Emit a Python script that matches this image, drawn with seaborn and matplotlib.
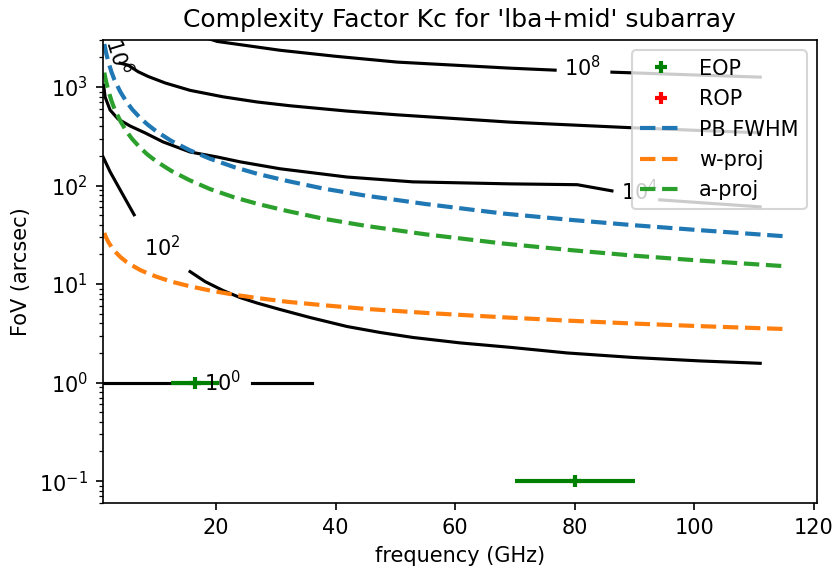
import matplotlib
matplotlib.use("Agg")
import matplotlib.pyplot as plt
import seaborn as sns

# ---------------- data ----------------
# dashed reference curves
pb_freq = [1.3, 1.6, 2, 2.5, 3, 4, 5, 6, 7.3, 8.5, 10, 12.5, 15.6, 19, 23, 27, 32, 38, 45, 55, 68, 79, 90, 101, 115]
pb_fov = [2730, 2220, 1780, 1420, 1180, 890, 710, 590, 486, 418, 355, 284, 228, 187, 154, 131, 111, 93, 79, 65, 52, 45, 39.5, 35.2, 30.6]

wproj_freq = [1.3, 1.6, 2, 2.5, 3, 4, 5, 6, 7.3, 8.5, 10, 12.5, 15.6, 19, 23, 27, 32, 38, 45, 55, 68, 79, 90, 101, 115]
wproj_fov = [33.0, 29.7, 26.6, 23.8, 21.7, 18.8, 16.8, 15.4, 13.9, 12.9, 11.9, 10.6, 9.5, 8.6, 7.8, 7.2, 6.6, 6.1, 5.6, 5.1, 4.6, 4.25, 3.97, 3.74, 3.5]

aproj_freq = [1.3, 1.6, 2, 2.5, 3, 4, 5, 6, 7.3, 8.5, 10, 12.5, 15.6, 19, 23, 27, 32, 38, 45, 55, 68, 79, 90, 101, 115]
aproj_fov = [1400, 1140, 910, 725, 600, 450, 355, 295, 242, 207, 176, 141, 113, 92, 76, 65, 55, 46, 39, 32, 25.8, 22.2, 19.4, 17.3, 15.2]

# Kc contour lines (level 1e8)
c8_a_freq = [18, 20.2, 30.7, 40, 50.3, 69.2, 76.7]
c8_a_fov = [3200, 2900, 2360, 2050, 1790, 1553, 1483]
c8_b_freq = [86.2, 100.9, 111.0]
c8_b_fov = [1415, 1320, 1260]

# level 1e6
c6_freq = [3.95, 5.28, 6.96, 8.63, 11.47, 15.65, 21.17, 26.85, 32.4, 41.9, 50.3, 69.2, 88.7, 100.9, 111.0]
c6_fov = [1746, 1667, 1430, 1280, 1100, 925, 795, 705, 645, 570, 522, 440, 388, 362, 343]

# level 1e4
c4_a_freq = [1.19, 1.44, 2.27, 3.61, 5.62, 8.13, 11.14, 15.65, 20.17, 24.02, 30.7, 41.9, 52.9, 69.2, 80.4, 86.2]
c4_a_fov = [1045, 790, 584, 473, 402, 342, 277, 219, 195, 174, 148, 122, 109, 104, 102, 88.3]
c4_b_freq = [94.2, 111.0]
c4_b_fov = [71.6, 60.8]

# level 1e2
c2_a_freq = [1.1, 2.27, 3.95, 6.29]
c2_a_fov = [195, 138, 90.5, 50.5]
c2_b_freq = [15.65, 18.16, 21.17, 24.0, 26.86, 30.7, 35.7, 41.9, 47.4, 52.95, 60.8, 69.2, 78.7, 89.7, 100.9, 111.0]
c2_b_fov = [13.38, 10.6, 8.6, 7.3, 6.42, 5.52, 4.58, 3.71, 3.23, 2.87, 2.53, 2.28, 2.0, 1.8, 1.66, 1.57]

# level 1e0
c0_a_freq = [1.0, 17.3]
c0_a_fov = [1.0, 1.0]
c0_b_freq = [26.05, 36.06]
c0_b_fov = [1.0, 1.0]

# contour label texts and anchor points
clabel_text = [r"$10^{0}$", r"$10^{2}$", r"$10^{4}$", r"$10^{6}$", r"$10^{8}$"]
clabel_freq = [21.0, 11.0, 90.9, 3.6, 81.2]
clabel_fov = [1.0, 23.4, 86.0, 2055, 1590]
clabel_rot = [0, 0, 0, -73, 0]

# observing points
eop_freq = [16.5, 80]
eop_fov = [1.0, 0.1]
eop_ferr = [4, 10]
rop_freq = []
rop_fov = []

# ---------------- figure ----------------
W, H, DPI = 836, 573, 150
fig = plt.figure(figsize=(W / DPI, H / DPI), dpi=DPI)
L, R, T, B = 102.5, 817, 40, 503
ax = fig.add_axes([L / W, 1 - B / H, (R - L) / W, (B - T) / H])

ck = dict(color="black", linewidth=1.5, ax=ax, sort=False, estimator=None, legend=False)
for fx, fy in [(c8_a_freq, c8_a_fov), (c8_b_freq, c8_b_fov), (c6_freq, c6_fov),
               (c4_a_freq, c4_a_fov), (c4_b_freq, c4_b_fov),
               (c2_a_freq, c2_a_fov), (c2_b_freq, c2_b_fov),
               (c0_a_freq, c0_a_fov), (c0_b_freq, c0_b_fov)]:
    sns.lineplot(x=fx, y=fy, **ck)

ax.errorbar(eop_freq, eop_fov, xerr=eop_ferr, fmt="none", ecolor="green",
            elinewidth=2, capsize=0)
ax.plot(eop_freq, eop_fov, linestyle="none", marker="+", color="green",
        ms=6, mew=2, label="EOP")
ax.plot(rop_freq, rop_fov, linestyle="none", marker="+", color="red",
        ms=6, mew=2, label="ROP")

dk = dict(ax=ax, sort=False, estimator=None, linewidth=2)
sns.lineplot(x=pb_freq, y=pb_fov, color="#1f77b4", linestyle="--", label="PB FWHM", **dk)
sns.lineplot(x=wproj_freq, y=wproj_fov, color="#ff7f0e", linestyle="--", label="w-proj", **dk)
sns.lineplot(x=aproj_freq, y=aproj_fov, color="#2ca02c", linestyle="--", label="a-proj", **dk)

for t, fx, fy, rot in zip(clabel_text, clabel_freq, clabel_fov, clabel_rot):
    ax.text(fx, fy, t, fontsize=10, ha="center", va="center",
            rotation=rot, rotation_mode="anchor", clip_on=True, zorder=3)

ax.set_yscale("log")
ax.set_xlim(1, 120.5)
ax.set_ylim(0.06, 3000)
ax.set_title("Complexity Factor Kc for 'lba+mid' subarray")
ax.set_xlabel("frequency (GHz)")
ax.set_ylabel("FoV (arcsec)")

handles, labels = ax.get_legend_handles_labels()
order = ["EOP", "ROP", "PB FWHM", "w-proj", "a-proj"]
hmap = dict(zip(labels, handles))
ax.legend([hmap[k] for k in order], order, loc="upper right")

fig.savefig("out.png", dpi=DPI)
